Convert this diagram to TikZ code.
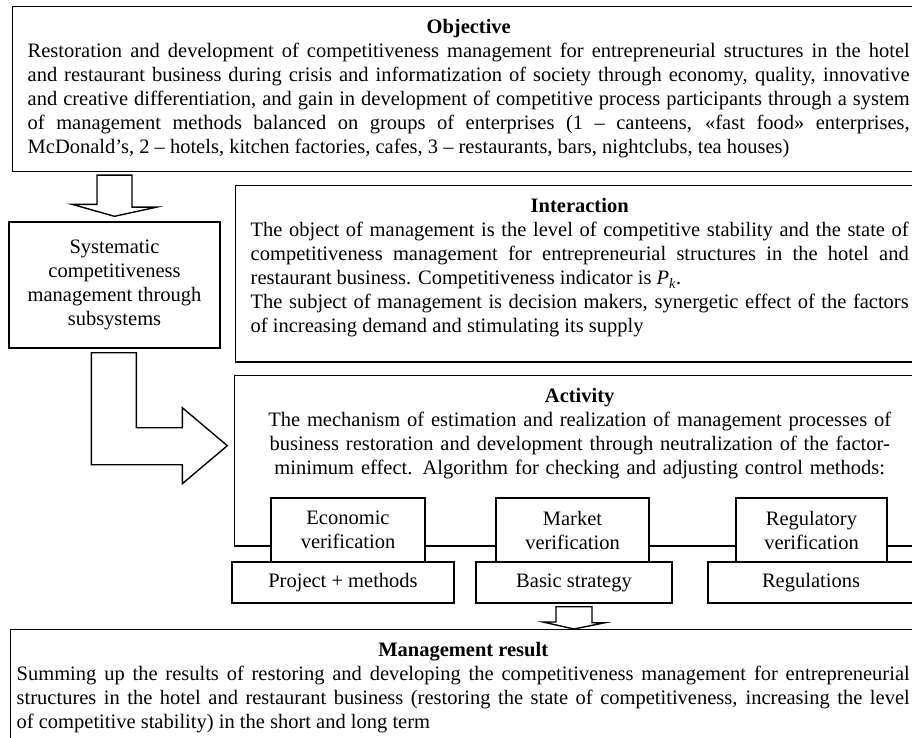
\documentclass[tikz,border=0pt]{standalone}
\usepackage{fontspec}
\setmainfont{Liberation Serif}
\usetikzlibrary{calc}
\tikzset{% styles for the boxes and the hollow arrows
    box/.style={draw=black, line width=1.4pt, fill=white, font=\fontsize{20.5}{24}\selectfont},
    wide/.style={box, anchor=north west, inner xsep=15pt, inner ysep=13pt, align=justify},
    ba/.style={draw=black, line width=1.4pt, fill=white, line join=miter}}
\newcommand{\boxfoot}[1]{\rule[-#1]{0pt}{#1}}
\newcommand{\boxhead}[1]{\null\hfill\textbf{#1}\hfill\null\\}

\begin{document}
\begin{tikzpicture}[x=1pt, y=-1pt]
  \useasboundingbox (0,0) rectangle (912,737);
  \clip (0,0) rectangle (912,737);

  \node[wide, text width=882pt] (obj) at (12,6) {\boxhead{Objective}Restoration and development of competitiveness management for entrepreneurial structures in the hotel\linebreak and restaurant business during crisis and informatization of society through economy, quality, innovative\linebreak and creative differentiation, and gain in development of competitive process participants through a system\linebreak of management methods balanced on groups of enterprises (1 – canteens, «fast food» enterprises,\linebreak McDonald’s, 2 – hotels, kitchen factories, cafes, 3 – restaurants, bars, nightclubs, tea houses)};
  \node[box, minimum width=211pt, minimum height=126pt, align=center] (sys) at (114.5,285) {Systematic\\competitiveness\\management through\\subsystems};
  \node[wide, text width=658pt] (int) at (235,185) {\boxhead{Interaction}The object of management is the level of competitive stability and the state of\linebreak competitiveness management for entrepreneurial structures in the hotel and\linebreak restaurant business. Competitiveness indicator is \textit{P}\textsubscript{\textit{k}}.\\ The subject of management is decision makers, synergetic effect of the factors\linebreak of increasing demand and stimulating its supply\boxfoot{16pt}};
  \node[wide, text width=660pt, align=center] (act) at (234,375) {\textbf{Activity}\\The mechanism of estimation and realization of management processes of\\business restoration and development through neutralization of the factor-\\minimum effect. Algorithm for checking and adjusting control methods:\boxfoot{58pt}};

  \node[box, minimum width=154pt, minimum height=64pt, align=center] (eco) at (348,530) {Economic\\verification};
  \node[box, minimum width=153pt, minimum height=64pt, align=center] (mkt) at (572.5,530) {Market\\verification};
  \node[box, minimum width=151pt, minimum height=64pt, align=center] (reg) at (811.5,530) {Regulatory\\verification};
  \node[box, minimum width=222pt, minimum height=41pt] (prj) at (343,582.5) {Project + methods};
  \node[box, minimum width=196pt, minimum height=41pt] (bas) at (574,582.5) {Basic strategy};
  \node[box, minimum width=206pt, minimum height=41pt] (rgl) at (811,582.5) {Regulations};

  \node[wide, text width=893pt, inner xsep=6pt] (res) at (10,629) {\boxhead{Management result}Summing up the results of restoring and developing the competitiveness management for entrepreneurial\linebreak structures in the hotel and restaurant business (restoring the state of competitiveness, increasing the level\linebreak of competitive stability) in the short and long term\boxfoot{40pt}};

  \draw[ba] ($(obj.south west)+(85,3)$) -- ++(35,0) -- ++(0,32) -- ++(25,0) -- ([yshift=5pt]sys.north) -- ++(-42.5,-12) -- ++(25,0) -- cycle;
  \draw[ba] ($(sys.south west)+(83,4)$) -- ++(45,0) -- ++(0,75) -- ++(46,0) -- ++(0,-20) -- ++(45,38) -- ++(-45,38) -- ++(0,-19) -- ++(-91,0) -- cycle;
  \draw[ba] ($(bas.south)+(-18,3)$) -- ++(36,0) -- ++(0,16) -- ++(13,0) -- (bas.south |- res.north) -- ++(-31,-7) -- ++(13,0) -- cycle;
\end{tikzpicture}
\end{document}
